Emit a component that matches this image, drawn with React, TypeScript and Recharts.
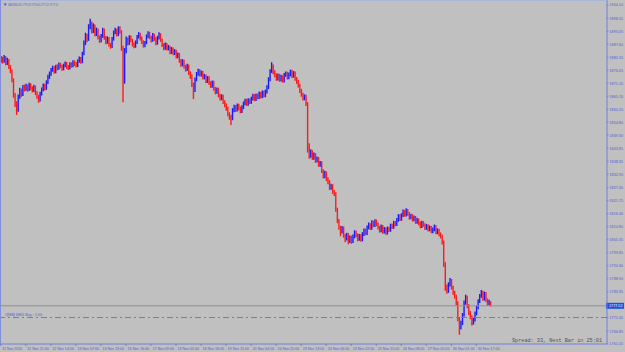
import { ComposedChart, Bar, XAxis, YAxis, ReferenceLine } from 'recharts';

const SYMBOL = 'XAUUSD,H1';
const HEADER_OHLC = ['1779.20', '1779.40', '1777.22', '1777.52'];
const SPREAD_TEXT = 'Spread: 33, Next Bar in 25:01';
const ORDER_TEXT = '#[MB] 6805 Buy : 1.00';

const BID = 1777.52;
const ORDER_PRICE = 1772.6;
const FIRST_OPEN = 1880.8;
const SLOTS = 388;

// hourly closes, 11 Nov 05:00 -> 1 Dec 02:00
const closes = [
  1881.5, 1880.2, 1882.0, 1879.5, 1880.8, 1878.0, 1876.2, 1872.5, 1866.0, 1862.5, 1860.0, 1865.5, 1868.0, 1866.5, 1869.5, 1868.8,
  1869.8, 1868.5, 1870.5, 1869.0, 1868.2, 1869.6, 1867.0, 1865.5, 1864.2, 1866.8, 1868.5, 1870.2, 1869.0, 1871.5, 1873.8, 1875.0,
  1876.8, 1877.5, 1876.0, 1878.2, 1877.4, 1879.0, 1878.3, 1877.2, 1878.6, 1879.4, 1878.0, 1877.6, 1879.2, 1878.5, 1880.0, 1879.3,
  1878.6, 1880.4, 1881.5, 1880.2, 1883.5, 1888.0, 1891.2, 1889.5, 1894.8, 1896.5, 1893.0, 1895.2, 1891.8, 1893.5, 1890.4, 1889.2,
  1891.0, 1893.6, 1890.2, 1888.5, 1890.0, 1887.4, 1886.6, 1889.8, 1892.5, 1893.4, 1891.6, 1894.0, 1892.8, 1886.0, 1872.0, 1884.5,
  1889.6, 1888.0, 1890.5, 1889.2, 1887.5, 1886.8, 1888.4, 1890.6, 1891.8, 1890.0, 1888.5, 1887.0, 1888.2, 1890.8, 1892.0, 1890.5,
  1889.2, 1891.4, 1889.8, 1888.0, 1890.2, 1891.5, 1889.4, 1887.2, 1886.0, 1887.4, 1885.8, 1886.5, 1884.2, 1885.6, 1883.8, 1884.6,
  1882.4, 1883.2, 1880.6, 1879.0, 1880.5, 1878.2, 1877.0, 1878.5, 1875.4, 1874.0, 1870.5, 1868.2, 1872.8, 1875.0, 1876.4, 1874.8,
  1875.6, 1873.5, 1874.2, 1872.0, 1873.4, 1871.2, 1870.0, 1871.5, 1868.8, 1867.4, 1868.6, 1866.0, 1864.8, 1865.6, 1863.2, 1862.0,
  1860.5, 1858.2, 1857.0, 1856.4, 1859.8, 1861.2, 1860.0, 1861.8, 1860.6, 1859.4, 1861.0, 1862.6, 1863.8, 1862.4, 1864.0, 1863.2,
  1864.6, 1865.8, 1864.4, 1866.0, 1865.2, 1866.8, 1865.6, 1867.2, 1866.0, 1867.6, 1869.4, 1872.8, 1876.2, 1878.4, 1875.8, 1874.6,
  1873.0, 1874.4, 1872.6, 1873.8, 1872.2, 1874.6, 1875.2, 1873.6, 1874.8, 1876.0, 1874.2, 1875.4, 1873.0, 1871.8, 1870.2, 1868.0,
  1866.4, 1864.8, 1865.6, 1862.5, 1845.0, 1840.6, 1842.2, 1839.8, 1841.0, 1838.6, 1839.4, 1836.8, 1837.6, 1834.2, 1832.0, 1833.4,
  1830.8, 1829.6, 1827.2, 1828.0, 1825.4, 1824.6, 1818.0, 1813.2, 1810.4, 1808.6, 1810.2, 1807.0, 1805.8, 1807.4, 1804.6, 1806.2,
  1804.8, 1806.6, 1808.4, 1807.2, 1805.6, 1806.8, 1805.4, 1807.6, 1809.2, 1808.0, 1810.4, 1811.6, 1810.2, 1812.6, 1811.4, 1813.0,
  1811.8, 1810.4, 1809.2, 1810.8, 1808.6, 1809.8, 1808.2, 1810.0, 1809.4, 1811.2, 1810.6, 1812.4, 1811.8, 1813.6, 1815.2, 1814.0,
  1815.6, 1817.0, 1815.8, 1817.6, 1816.2, 1814.6, 1815.4, 1813.8, 1814.6, 1812.8, 1813.6, 1812.2, 1811.0, 1812.4, 1811.6, 1810.2,
  1811.0, 1809.6, 1810.4, 1808.8, 1809.6, 1810.8, 1808.4, 1809.2, 1807.6, 1806.8, 1804.2, 1795.0, 1785.6, 1783.8, 1786.4, 1788.0,
  1785.2, 1783.0, 1781.4, 1778.6, 1772.0, 1768.4, 1770.2, 1773.6, 1778.8, 1781.0, 1777.4, 1774.6, 1772.8, 1770.4, 1771.6, 1774.2,
  1776.8, 1779.4, 1781.6, 1783.2, 1780.4, 1782.6, 1779.8, 1778.4, 1779.2, 1777.5,
];

const highs = [
  1882.6, 1882.3, 1883.1, 1882.6, 1881.9, 1881.4, 1878.9, 1877.0, 1873.2, 1867.1, 1863.6, 1866.4, 1869.3, 1868.9, 1870.4, 1870.6,
  1871.0, 1870.6, 1871.4, 1871.2, 1869.9, 1870.5, 1870.2, 1867.8, 1866.3, 1867.6, 1869.4, 1871.1, 1871.0, 1872.4, 1874.7, 1876.1,
  1877.6, 1878.6, 1878.3, 1879.0, 1879.1, 1879.9, 1879.8, 1879.0, 1879.4, 1880.3, 1880.1, 1878.8, 1880.0, 1880.0, 1880.9, 1880.8,
  1880.1, 1881.2, 1882.4, 1882.2, 1884.4, 1889.2, 1892.4, 1892.0, 1896.0, 1898.3, 1897.2, 1896.4, 1895.9, 1894.6, 1894.2, 1891.3,
  1891.9, 1894.5, 1894.2, 1891.0, 1890.9, 1890.6, 1888.2, 1890.6, 1893.4, 1894.5, 1894.1, 1895.1, 1895.2, 1893.5, 1887.0, 1886.0,
  1890.8, 1890.4, 1891.4, 1891.3, 1889.9, 1888.3, 1889.2, 1891.5, 1892.7, 1892.4, 1890.8, 1889.2, 1889.0, 1891.7, 1893.0, 1892.8,
  1891.2, 1892.3, 1892.0, 1890.5, 1891.1, 1892.6, 1892.2, 1890.0, 1888.0, 1888.3, 1888.1, 1887.3, 1887.0, 1886.4, 1886.2, 1885.5,
  1885.3, 1884.1, 1883.9, 1881.4, 1881.3, 1881.1, 1878.9, 1879.4, 1879.1, 1876.2, 1874.8, 1871.4, 1873.6, 1875.9, 1877.3, 1877.1,
  1876.5, 1876.3, 1875.1, 1874.9, 1874.2, 1874.1, 1872.0, 1872.3, 1872.2, 1869.6, 1869.4, 1869.3, 1866.8, 1866.5, 1866.3, 1864.0,
  1862.8, 1861.3, 1859.0, 1857.9, 1860.7, 1862.1, 1862.0, 1862.7, 1862.5, 1861.4, 1861.9, 1863.5, 1864.7, 1864.6, 1864.9, 1864.8,
  1865.5, 1866.7, 1866.6, 1866.9, 1866.8, 1867.7, 1867.5, 1868.1, 1868.0, 1868.5, 1870.3, 1873.7, 1877.1, 1880.0, 1879.1, 1876.6,
  1875.4, 1875.3, 1875.1, 1874.7, 1874.5, 1875.5, 1876.1, 1876.0, 1875.7, 1876.9, 1876.8, 1876.3, 1876.1, 1873.8, 1872.6, 1871.0,
  1868.8, 1867.2, 1866.5, 1866.3, 1863.2, 1845.9, 1843.4, 1843.0, 1842.0, 1841.8, 1840.3, 1840.1, 1838.5, 1838.3, 1835.0, 1834.3,
  1834.1, 1831.6, 1830.4, 1828.9, 1828.7, 1826.2, 1825.3, 1818.8, 1814.0, 1811.2, 1811.1, 1810.9, 1807.8, 1808.3, 1808.1, 1807.1,
  1807.0, 1807.5, 1809.3, 1809.1, 1808.0, 1807.7, 1807.6, 1808.5, 1810.1, 1810.0, 1811.3, 1812.6, 1812.3, 1813.5, 1813.3, 1813.9,
  1813.8, 1812.6, 1811.2, 1811.7, 1811.5, 1810.7, 1810.5, 1810.9, 1810.8, 1812.1, 1812.0, 1813.3, 1813.2, 1814.5, 1816.1, 1816.0,
  1816.5, 1818.0, 1817.8, 1818.6, 1818.3, 1817.0, 1816.3, 1816.1, 1815.5, 1815.3, 1814.5, 1814.3, 1813.0, 1813.3, 1813.1, 1812.3,
  1811.9, 1811.8, 1811.3, 1811.1, 1810.5, 1811.7, 1811.5, 1810.1, 1809.9, 1808.4, 1807.5, 1805.0, 1795.8, 1786.5, 1787.4, 1789.2,
  1788.8, 1786.0, 1783.8, 1782.2, 1779.4, 1772.8, 1771.2, 1774.5, 1779.8, 1782.2, 1781.8, 1778.2, 1775.4, 1773.6, 1772.5, 1775.1,
  1777.7, 1780.3, 1782.5, 1784.2, 1783.9, 1783.5, 1783.3, 1780.6, 1780.1, 1779.4,
];

const lows = [
  1879.9, 1879.4, 1879.8, 1878.7, 1878.9, 1877.2, 1875.4, 1871.6, 1865.1, 1861.2, 1857.8, 1859.2, 1864.6, 1865.4, 1865.8, 1867.7,
  1868.0, 1867.6, 1867.9, 1868.2, 1867.3, 1867.5, 1866.2, 1864.6, 1862.9, 1863.5, 1866.0, 1867.8, 1868.1, 1868.4, 1870.9, 1873.0,
  1874.3, 1876.0, 1875.2, 1875.4, 1876.6, 1876.8, 1877.5, 1876.4, 1876.6, 1877.9, 1877.2, 1876.7, 1877.0, 1877.7, 1877.9, 1878.4,
  1877.8, 1878.0, 1879.8, 1879.4, 1879.6, 1882.9, 1887.2, 1888.4, 1889.0, 1893.9, 1892.1, 1892.3, 1890.9, 1891.0, 1889.6, 1888.1,
  1888.4, 1890.3, 1889.5, 1887.6, 1887.8, 1886.5, 1885.7, 1886.0, 1889.1, 1891.8, 1890.8, 1891.0, 1892.0, 1884.8, 1863.2, 1871.0,
  1883.8, 1887.1, 1887.3, 1888.4, 1886.6, 1885.9, 1886.1, 1887.7, 1890.0, 1889.2, 1887.7, 1886.2, 1886.3, 1887.6, 1890.1, 1889.7,
  1888.3, 1888.6, 1889.0, 1887.2, 1887.4, 1889.6, 1888.6, 1886.4, 1885.1, 1885.3, 1885.0, 1885.0, 1883.4, 1883.5, 1883.0, 1883.1,
  1881.6, 1881.7, 1879.8, 1878.1, 1878.3, 1877.4, 1876.1, 1876.3, 1874.6, 1873.1, 1869.6, 1864.5, 1867.5, 1872.0, 1874.3, 1874.0,
  1874.0, 1872.7, 1872.8, 1871.2, 1871.3, 1870.4, 1869.2, 1869.3, 1868.0, 1866.5, 1866.7, 1865.2, 1863.9, 1864.0, 1862.4, 1861.1,
  1859.6, 1857.3, 1855.8, 1853.6, 1855.6, 1859.0, 1859.1, 1859.3, 1859.8, 1858.5, 1858.7, 1860.3, 1861.9, 1861.6, 1861.7, 1862.4,
  1862.5, 1863.9, 1863.6, 1863.7, 1864.4, 1864.5, 1864.8, 1864.9, 1865.2, 1865.3, 1866.9, 1868.7, 1872.0, 1875.5, 1875.0, 1873.7,
  1872.2, 1872.3, 1871.8, 1871.9, 1871.4, 1871.5, 1873.9, 1872.8, 1872.9, 1874.1, 1873.4, 1873.5, 1872.2, 1870.9, 1869.4, 1867.1,
  1865.5, 1863.9, 1864.0, 1861.6, 1842.0, 1839.4, 1839.8, 1838.9, 1839.0, 1837.7, 1837.8, 1836.0, 1836.0, 1833.4, 1831.1, 1831.2,
  1830.0, 1828.7, 1826.3, 1826.4, 1824.6, 1823.7, 1817.1, 1812.3, 1809.5, 1806.8, 1807.9, 1806.2, 1804.3, 1805.0, 1803.4, 1803.9,
  1803.6, 1804.0, 1805.9, 1806.4, 1804.7, 1804.9, 1804.5, 1804.7, 1806.9, 1807.2, 1807.3, 1809.7, 1809.4, 1809.5, 1810.6, 1810.7,
  1811.0, 1809.6, 1808.3, 1808.5, 1807.8, 1807.9, 1807.4, 1807.5, 1808.6, 1808.7, 1809.8, 1809.9, 1811.0, 1811.1, 1812.9, 1813.2,
  1813.3, 1814.9, 1815.0, 1815.1, 1815.4, 1813.8, 1813.9, 1813.0, 1813.1, 1812.0, 1812.1, 1811.4, 1810.2, 1810.3, 1810.8, 1809.4,
  1809.5, 1808.8, 1808.9, 1808.0, 1808.1, 1808.9, 1807.6, 1807.7, 1806.8, 1805.9, 1803.3, 1793.8, 1783.9, 1782.6, 1783.0, 1785.6,
  1784.3, 1782.1, 1780.5, 1777.6, 1771.0, 1765.3, 1767.5, 1769.4, 1773.0, 1778.0, 1776.5, 1773.7, 1771.9, 1769.2, 1769.6, 1770.9,
  1773.5, 1776.1, 1778.7, 1780.9, 1779.6, 1779.7, 1779.0, 1777.5, 1777.6, 1777.2,
];

const TIME_LABELS = [
  '11 Nov 2020', '11 Nov 21:00', '12 Nov 14:00', '13 Nov 07:00', '13 Nov 23:00',
  '16 Nov 16:00', '17 Nov 09:00', '18 Nov 02:00', '18 Nov 18:00', '19 Nov 11:00',
  '20 Nov 04:00', '20 Nov 20:00', '23 Nov 13:00', '24 Nov 06:00', '24 Nov 22:00',
  '25 Nov 15:00', '26 Nov 08:00', '27 Nov 05:00', '30 Nov 01:00', '30 Nov 17:00',
];
const TIME_LABEL_BARS = [0, 16, 32, 48, 64, 80, 96, 112, 128, 144, 160, 176, 192, 208, 224, 240, 256, 272, 288, 304];

const PRICE_TICKS = [
  1904.10, 1898.55, 1893.05, 1887.60, 1882.05, 1876.65, 1871.10, 1865.70, 1860.20,
  1854.80, 1849.30, 1843.85, 1838.35, 1832.90, 1827.30, 1821.75, 1816.30, 1810.80,
  1805.35, 1799.85, 1794.30, 1788.90, 1783.35, 1772.40, 1766.85, 1761.45,
];

const BG = '#c0c0c0';
const AXIS = '#6f80d8';
const AXIS_TEXT = '#4a5ed6';
const UP = '#1a1aff';
const DOWN = '#ff1a1a';
const SMALL_FONT = "'Liberation Sans', Arial, sans-serif";

const rows = Array.from({ length: SLOTS }, (_, i) => {
  if (i >= closes.length) return { i };
  const o = i === 0 ? FIRST_OPEN : closes[i - 1];
  return { i, o, c: closes[i], range: [lows[i], highs[i]] };
});

function OhlcShape(props: any) {
  const { x, y, width, height, payload } = props;
  if (payload.c === undefined || !Number.isFinite(y)) return null;
  const cx = x + width / 2;
  const color = payload.c >= payload.o ? UP : DOWN;
  return <line x1={cx} y1={y} x2={cx} y2={y + Math.max(height, 1)} stroke={color} strokeWidth={1.4} />;
}

function TimeTick({ x, y, payload }: any) {
  const label = TIME_LABELS[TIME_LABEL_BARS.indexOf(payload.value)] || '';
  return (
    <g>
      <line x1={x} y1={y} x2={x} y2={y + 2} stroke={AXIS} strokeWidth={1} />
      <text
        x={x + 1.5}
        y={y + 5.5}
        fontSize={4}
        fill={AXIS_TEXT}
        fontFamily={SMALL_FONT}
        textLength={label.length * 1.8}
        lengthAdjust="spacingAndGlyphs"
      >
        {label}
      </text>
    </g>
  );
}

function PriceTick({ x, y, payload }: any) {
  return (
    <g>
      <line x1={x} y1={y} x2={x + 1.5} y2={y} stroke={AXIS} strokeWidth={1} />
      <text
        x={x + 2.5}
        y={y + 1.4}
        fontSize={4}
        fill={AXIS_TEXT}
        fontFamily={SMALL_FONT}
        textLength={13.5}
        lengthAdjust="spacingAndGlyphs"
      >
        {payload.value.toFixed(2)}
      </text>
    </g>
  );
}

function BidTag({ viewBox }: any) {
  const x = viewBox.x + viewBox.width;
  return (
    <g>
      <rect x={x - 1} y={viewBox.y - 3} width={18} height={6} fill="#2050e0" />
      <text
        x={x + 2}
        y={viewBox.y + 1.4}
        fontSize={4}
        fill="#ffffff"
        fontFamily={SMALL_FONT}
        textLength={13.5}
        lengthAdjust="spacingAndGlyphs"
      >
        {BID.toFixed(2)}
      </text>
    </g>
  );
}

function OrderTag({ viewBox }: any) {
  return (
    <text
      x={viewBox.x + 5}
      y={viewBox.y - 1.5}
      fontSize={4}
      fill={AXIS_TEXT}
      fontFamily={SMALL_FONT}
      textLength={37}
      lengthAdjust="spacingAndGlyphs"
    >
      {ORDER_TEXT}
    </text>
  );
}

export default function App() {
  const header = SYMBOL + '  ' + HEADER_OHLC.join(' ');
  return (
    <div style={{ position: 'absolute', left: 0, top: 0, width: 625, height: 352, background: BG, overflow: 'hidden' }}>
      <ComposedChart
        width={625}
        height={352}
        data={rows}
        margin={{ top: 0, right: 0, bottom: 0, left: 0 }}
        barCategoryGap={0}
        barGap={0}
      >
        <XAxis
          dataKey="i"
          type="category"
          ticks={TIME_LABEL_BARS}
          interval={0}
          height={8}
          tickLine={false}
          tickSize={0}
          tickMargin={0}
          axisLine={{ stroke: AXIS }}
          tick={<TimeTick />}
        />
        <YAxis
          orientation="right"
          width={18}
          domain={[1761.45, 1906.2]}
          ticks={PRICE_TICKS}
          interval={0}
          tickLine={false}
          tickSize={0}
          tickMargin={0}
          axisLine={{ stroke: AXIS }}
          tick={<PriceTick />}
          allowDataOverflow
        />
        <ReferenceLine y={BID} stroke="#8f8f8f" strokeWidth={1} label={<BidTag />} />
        <ReferenceLine y={ORDER_PRICE} stroke="#9a8424" strokeWidth={1} strokeDasharray="6 3 2 3" label={<OrderTag />} />
        <Bar dataKey="range" shape={<OhlcShape />} isAnimationActive={false} />
      </ComposedChart>
      <svg width={625} height={352} style={{ position: 'absolute', left: 0, top: 0, pointerEvents: 'none' }}>
        <line x1={0} y1={0.5} x2={607} y2={0.5} stroke="#a9b6dc" strokeWidth={1} />
        <line x1={0.5} y1={0} x2={0.5} y2={344} stroke="#7e8fd8" strokeWidth={1} />
        <path d="M3.5 3.5 L7 3.5 L5.25 6 Z" fill={AXIS_TEXT} />
        <text
          x={8}
          y={6}
          fontSize={4}
          fill={AXIS_TEXT}
          fontFamily={SMALL_FONT}
          textLength={50}
          lengthAdjust="spacingAndGlyphs"
        >
          {header}
        </text>
        <text
          x={512}
          y={342}
          fontSize={5.5}
          fill="#505050"
          fontFamily="'Liberation Mono', 'DejaVu Sans Mono', monospace"
          textLength={90}
          lengthAdjust="spacingAndGlyphs"
        >
          {SPREAD_TEXT}
        </text>
      </svg>
    </div>
  );
}
